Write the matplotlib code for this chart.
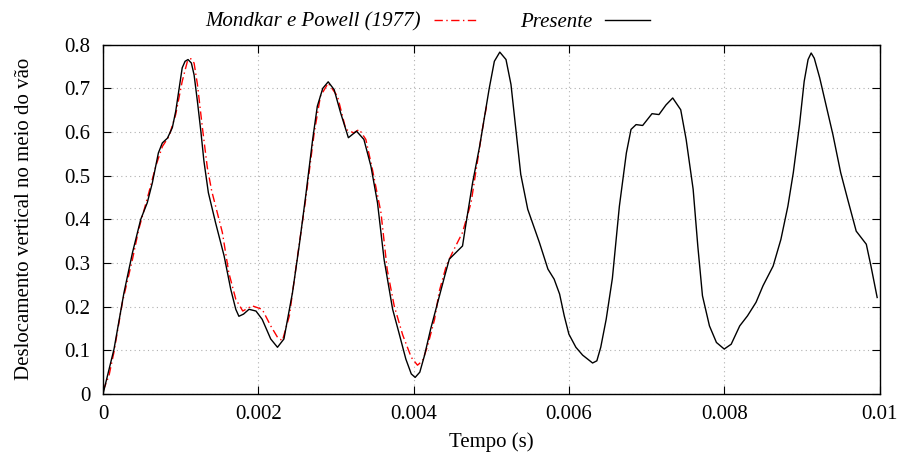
import matplotlib.pyplot as plt
from matplotlib.ticker import FuncFormatter

# Presente (black solid)
t_presente = [0.0, 0.000142, 0.00027, 0.00038, 0.000486, 0.00057, 0.000636, 0.000713,
              0.000764, 0.00083, 0.000893, 0.000937, 0.00098, 0.00102, 0.001057, 0.001095,
              0.001138, 0.001173, 0.001216, 0.00126, 0.0013, 0.001357, 0.00145, 0.00156,
              0.001645, 0.00171, 0.00175, 0.00181, 0.00188, 0.00197, 0.00205, 0.00216,
              0.002247, 0.00233, 0.00244, 0.002526, 0.00261, 0.0027, 0.00276, 0.00283,
              0.0029, 0.002977, 0.00306, 0.00316, 0.003265, 0.00336, 0.00345, 0.003535,
              0.00362, 0.00373, 0.00381, 0.0039, 0.00397, 0.00402, 0.00408, 0.00414,
              0.00422, 0.00431, 0.0044, 0.00446, 0.004545, 0.00463, 0.00467, 0.00476,
              0.00485, 0.00489, 0.004974, 0.00504, 0.00511, 0.00519, 0.005254, 0.00532,
              0.00538, 0.00547, 0.00562, 0.00573, 0.00581, 0.00588, 0.00594, 0.006,
              0.00609, 0.006177, 0.00624, 0.006305, 0.00636, 0.00641, 0.00648, 0.00656,
              0.00665, 0.00674, 0.0068, 0.006865, 0.00695, 0.00707, 0.00716, 0.00725,
              0.007337, 0.00744, 0.00751, 0.0076, 0.00766, 0.00772, 0.00781, 0.0079,
              0.008, 0.00809, 0.0082, 0.0083, 0.00841, 0.0085, 0.00863, 0.00873,
              0.00882, 0.00889, 0.00897, 0.00903, 0.00908, 0.00912, 0.00916, 0.00923,
              0.00931, 0.0094, 0.0095, 0.00959, 0.0097, 0.00983, 0.00989, 0.00997]
v_presente = [0.0, 0.103, 0.232, 0.324, 0.40, 0.438, 0.484, 0.552,
              0.575, 0.586, 0.61, 0.648, 0.70, 0.747, 0.762, 0.766,
              0.758, 0.731, 0.670, 0.602, 0.533, 0.461, 0.392, 0.316,
              0.24, 0.194, 0.178, 0.183, 0.194, 0.19, 0.171, 0.126,
              0.107, 0.126, 0.232, 0.339, 0.453, 0.583, 0.659, 0.70,
              0.715, 0.697, 0.644, 0.587, 0.602, 0.583, 0.522, 0.438,
              0.308, 0.194, 0.141, 0.08, 0.046, 0.038, 0.05, 0.088,
              0.149, 0.21, 0.27, 0.309, 0.324, 0.339, 0.385, 0.484,
              0.567, 0.61, 0.70, 0.762, 0.783, 0.766, 0.709, 0.60,
              0.503, 0.423, 0.347, 0.286, 0.263, 0.229, 0.179, 0.137,
              0.107, 0.089, 0.08, 0.071, 0.076, 0.107, 0.171, 0.265,
              0.43, 0.552, 0.606, 0.617, 0.615, 0.642, 0.64, 0.662,
              0.678, 0.651, 0.583, 0.469, 0.339, 0.225, 0.156, 0.118,
              0.103, 0.114, 0.156, 0.179, 0.21, 0.248, 0.293, 0.354,
              0.43, 0.507, 0.617, 0.716, 0.766, 0.781, 0.769, 0.724,
              0.663, 0.594, 0.507, 0.446, 0.373, 0.343, 0.293, 0.221]

# Mondkar e Powell (1977) (red dash-dot)
t_mondkar = [0.0, 0.000077, 0.00014, 0.00025, 0.00038, 0.00046, 0.00059, 0.00068,
             0.000765, 0.00085, 0.000936, 0.00102, 0.001087, 0.00113, 0.001173, 0.001216,
             0.00128, 0.001344, 0.0014, 0.001537, 0.00162, 0.00171, 0.0018, 0.00192,
             0.00205, 0.00216, 0.002247, 0.00231, 0.0024, 0.0025, 0.00261, 0.00272,
             0.0028, 0.0029, 0.00302, 0.003127, 0.00323, 0.0033, 0.003385, 0.00347,
             0.00358, 0.00366, 0.00375, 0.00386, 0.00397, 0.00405, 0.004115, 0.00418,
             0.00427, 0.00433, 0.00442, 0.0045, 0.00463, 0.00474, 0.00482, 0.00488,
             0.00494]
v_mondkar = [0.007, 0.042, 0.095, 0.21, 0.309, 0.377, 0.461, 0.522,
             0.567, 0.59, 0.640, 0.716, 0.762, 0.768, 0.758, 0.709,
             0.61, 0.518, 0.465, 0.37, 0.278, 0.217, 0.19, 0.202,
             0.194, 0.156, 0.13, 0.122, 0.179, 0.309, 0.446, 0.598,
             0.682, 0.712, 0.682, 0.606, 0.598, 0.606, 0.583, 0.514,
             0.415, 0.285, 0.202, 0.135, 0.084, 0.066, 0.076, 0.11,
             0.171, 0.235, 0.293, 0.324, 0.37, 0.438, 0.53, 0.60,
             0.66]

x_ticks = [0, 0.002, 0.004, 0.006, 0.008, 0.01]
y_ticks = [0, 0.1, 0.2, 0.3, 0.4, 0.5, 0.6, 0.7, 0.8]

plt.rcParams['font.family'] = ['Liberation Serif', 'DejaVu Serif']
plt.rcParams['font.size'] = 15

fig = plt.figure(figsize=(9.01, 4.59), dpi=100)
ax = fig.add_axes([103 / 901, 1 - 394 / 459, 776.5 / 901, 349.3 / 459])

ax.plot(t_mondkar, v_mondkar, color='#ff0000', lw=1.0,
        dashes=(6, 2.5, 1, 2.5), label='Mondkar e Powell (1977)')
ax.plot(t_presente, v_presente, color='black', lw=1.0, label='Presente')

ax.set_xlim(0, 0.01)
ax.set_ylim(0, 0.8)
ax.set_xticks(x_ticks)
ax.set_yticks(y_ticks)
ax.xaxis.set_major_formatter(FuncFormatter(lambda v, p: '%g' % v))
ax.yaxis.set_major_formatter(FuncFormatter(lambda v, p: '%g' % v))
ax.tick_params(direction='in', top=True, right=True, length=6, width=0.8, labelsize=15)
ax.tick_params(axis='y', pad=9)
ax.tick_params(axis='x', pad=8)
ax.grid(True, color='#b0b0b0', linestyle=(0, (1, 3)), lw=0.8)
for s in ax.spines.values():
    s.set_linewidth(1.0)

ax.set_xlabel('Tempo (s)', fontsize=15, labelpad=6)
ax.set_ylabel('Deslocamento vertical no meio do vão', fontsize=15, labelpad=22)

leg = ax.legend(loc='center', bbox_to_anchor=(0.4745, 0.952), bbox_transform=fig.transFigure,
                ncol=2, frameon=False, markerfirst=False, handlelength=2.15,
                columnspacing=1.97, handletextpad=0.63, borderaxespad=0, borderpad=0,
                prop={'style': 'italic', 'size': 15})

fig.savefig('out.png', dpi=100)
